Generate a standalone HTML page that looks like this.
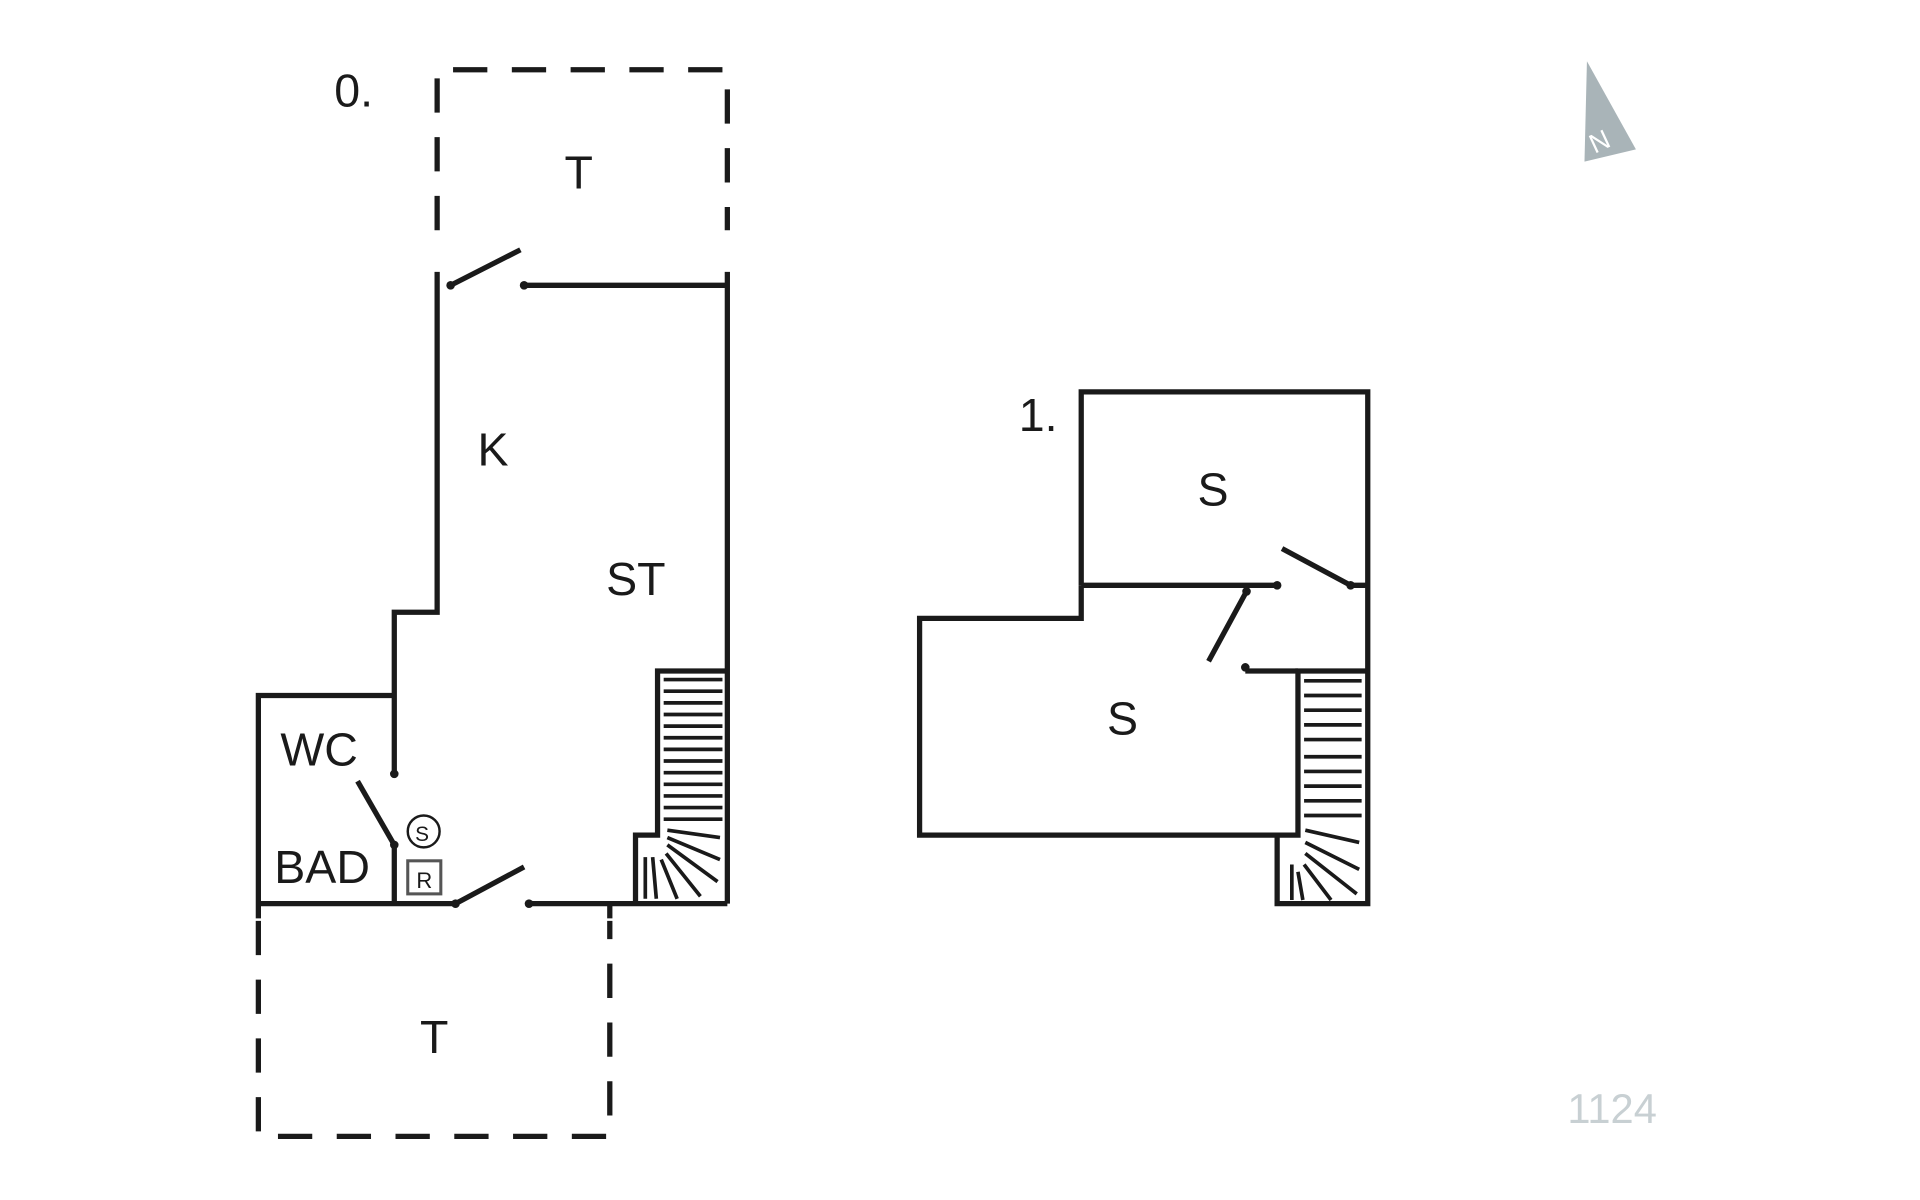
<!DOCTYPE html>
<html><head><meta charset="utf-8"><style>
html,body{margin:0;padding:0;background:#fff;width:1920px;height:1200px;overflow:hidden}
svg{display:block}
text{font-family:"Liberation Sans","DejaVu Sans",sans-serif;fill:#1a1a1a}
</style></head><body>
<svg width="1920" height="1200" viewBox="0 0 1568 980" preserveAspectRatio="none" xmlns="http://www.w3.org/2000/svg">
<g fill="none" stroke="#1a1a1a" stroke-width="4.3" stroke-linecap="butt">
<path d="M357,188 V57 H594 V188" stroke-dasharray="28,20"/>
<path d="M211,752 V928 H498 V752" stroke-dasharray="28,20"/>
<path d="M357,222 V500 H322 V632"/>
<path d="M428,233 H594"/>
<path d="M594,222 V738"/>
<path d="M322,568 H211 V750"/>
<path d="M211,738 H372"/>
<path d="M322,690 V738"/>
<path d="M432,738 H594"/>
<path d="M498,738 V750"/>
<path d="M368,233 L425,204"/>
<path d="M372,738 L428,708"/>
<path d="M292,638 L322,690"/>
<path d="M594,548 H537 V682 H519 V738"/>
<g stroke-width="3">
<path d="M542,555H590M542,564.5H590M542,574H590M542,583.5H590M542,593H590M542,602.5H590M542,612H590M542,621.5H590M542,631H590M542,640.5H590M542,650H590M542,659.5H590M542,669H590"/>
<path d="M545,678L588,684M545,684L588,702M545,690L586,720M544,697L572,732M540,702L553,734M533,700L536,734M527,700L527,734"/>
</g>
<circle cx="346" cy="679" r="13" stroke-width="2"/>
<rect x="333" y="703" width="27" height="27" stroke="#555" stroke-width="2.5"/>
<path d="M883,478 V320 H1117 V738 H1043 V682"/>
<path d="M883,478 H1043"/>
<path d="M1103,478 H1117"/>
<path d="M883,478 V505 H751 V682 H1060 V548 H1117"/>
<path d="M1017,548 H1060"/>
<path d="M1103,478 L1047,448"/>
<path d="M1018,483 L987,540"/>
<g stroke-width="3">
<path d="M1065,556H1112M1065,568H1112M1065,580H1112M1065,592H1112M1065,604H1112M1065,618H1112M1065,630H1112M1065,642H1112M1065,654H1112M1065,666H1112"/>
<path d="M1066,678L1110,688M1066,688L1110,710M1066,697L1108,730M1065,706L1087,735M1060,712L1064,735M1055,706L1055,735"/>
</g>
</g>
<g fill="#1a1a1a">
<circle cx="368" cy="233" r="3.5"/><circle cx="428" cy="233" r="3.5"/>
<circle cx="372" cy="738" r="3.5"/><circle cx="432" cy="738" r="3.5"/>
<circle cx="322" cy="632" r="3.5"/><circle cx="322" cy="690" r="3.5"/>
<circle cx="1043" cy="478" r="3.5"/><circle cx="1103" cy="478" r="3.5"/>
<circle cx="1018" cy="483" r="3.5"/><circle cx="1017" cy="545" r="3.5"/>
</g>
<g font-size="38">
<text x="273" y="87">0.</text>
<text x="461" y="154">T</text>
<text x="390" y="380">K</text>
<text x="495" y="486">ST</text>
<text x="229" y="625">WC</text>
<text x="224" y="721">BAD</text>
<text x="343" y="860">T</text>
<text x="832" y="352">1.</text>
<text x="978" y="413">S</text>
<text x="904" y="600">S</text>
</g>
<text x="339" y="687" font-size="17">S</text>
<text x="340" y="725" font-size="18">R</text>
<polygon points="1296,50 1336,122 1294,132" fill="#a9b4b8"/>
<text x="1297" y="122" font-size="22" style="fill:#fff" transform="rotate(-25 1308 112)">N</text>
<text x="1280" y="917" font-size="34" style="fill:#c8d0d3">1124</text>
</svg>
</body></html>
